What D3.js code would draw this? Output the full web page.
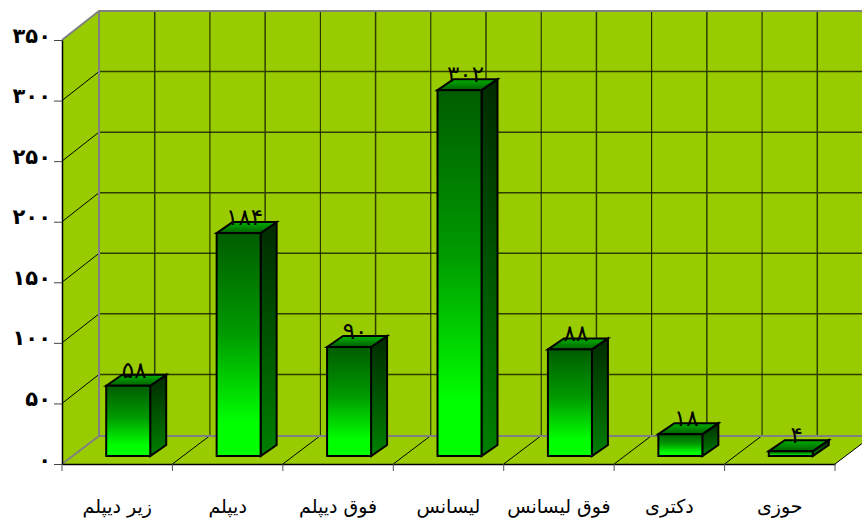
<!DOCTYPE html>
<html>
<head>
<meta charset="utf-8">
<script src="https://cdnjs.cloudflare.com/ajax/libs/d3/7.8.5/d3.min.js"></script>
<style>
html, body { margin: 0; padding: 0; background: #fff; }
svg { display: block; }
</style>
</head>
<body>
<div id="chart"></div>
<script>
var categories = ["زیر دیپلم", "دیپلم", "فوق دیپلم", "لیسانس", "فوق لیسانس", "دکتری", "حوزی"];
var values = [58, 184, 90, 302, 88, 18, 4];
var yTicks = [0, 50, 100, 150, 200, 250, 300, 350];

function init() {
    var width = 862, height = 523;
    var left = 62, right = 835, top = 40, bottom = 464;
    var depthX = 37, depthY = 28;

    var xScale = d3.scaleBand().domain(categories).range([left, right]);
    var yScale = d3.scaleLinear().domain([0, 350]).range([bottom, top]);

    function fa(n) {
        return String(n).replace(/\d/g, function(c) { return "۰۱۲۳۴۵۶۷۸۹"[+c]; });
    }

    var svg = d3.select("#chart").append("svg")
        .attr("width", width)
        .attr("height", height);

    var defs = svg.append("defs");
    function gradient(id, stops) {
        var g = defs.append("linearGradient").attr("id", id)
            .attr("x1", 0).attr("x2", 0).attr("y1", 0).attr("y2", 1);
        stops.forEach(function(s) {
            g.append("stop").attr("offset", s[0]).attr("stop-color", s[1]);
        });
    }
    gradient("frontFill", [[0, "#005c00"], [0.45, "#009a00"], [0.85, "#00ff00"], [1, "#00ff00"]]);
    gradient("sideFill", [[0, "#002a00"], [1, "#008000"]]);
    gradient("topFill", [[0, "#00b000"], [1, "#006000"]]);

    // walls and floor
    var wallColor = "#99cc00", edge = "#808080";
    svg.append("polygon")
        .attr("points", [[left, top], [left + depthX, top - depthY - 1], [left + depthX, bottom - depthY], [left, bottom]].join(" "))
        .attr("fill", wallColor);
    svg.append("rect")
        .attr("x", left + depthX).attr("y", top - depthY - 1)
        .attr("width", width - left - depthX).attr("height", bottom - top + 1)
        .attr("fill", wallColor);
    svg.append("polygon")
        .attr("points", [[left, bottom], [left + depthX, bottom - depthY], [right + depthX, bottom - depthY], [right, bottom]].join(" "))
        .attr("fill", wallColor);

    // gridlines on the back wall
    var xStep = xScale.step();
    yTicks.slice(1, -1).forEach(function(t) {
        svg.append("line")
            .attr("x1", left).attr("y1", yScale(t))
            .attr("x2", left + depthX).attr("y2", yScale(t) - depthY - 1)
            .attr("stroke", "#000").attr("stroke-width", 1);
        svg.append("line")
            .attr("x1", left + depthX).attr("y1", yScale(t) - depthY - 1)
            .attr("x2", width).attr("y2", yScale(t) - depthY - 1)
            .attr("stroke", "#2e3d00").attr("stroke-width", 1.5);
    });
    d3.range(1, 15).forEach(function(i) {
        var gx = left + depthX + 0.5 + i * xStep / 2;
        svg.append("line")
            .attr("x1", gx).attr("y1", top - depthY)
            .attr("x2", gx).attr("y2", bottom - depthY)
            .attr("stroke", i % 2 ? "#2e3d00" : "#141a00").attr("stroke-width", i % 2 ? 1.5 : 1);
    });
    // floor lines
    d3.range(1, 8).forEach(function(i) {
        svg.append("line")
            .attr("x1", left + i * xStep).attr("y1", bottom)
            .attr("x2", left + i * xStep + depthX).attr("y2", bottom - depthY)
            .attr("stroke", "#000").attr("stroke-width", 1);
    });

    // wall edges
    svg.append("path")
        .attr("d", "M" + left + "," + top + "L" + (left + depthX) + "," + (top - depthY - 1) + "L" + width + "," + (top - depthY - 1))
        .attr("fill", "none").attr("stroke", edge).attr("stroke-width", 2);
    svg.append("line")
        .attr("x1", left + depthX).attr("y1", top - depthY - 1)
        .attr("x2", left + depthX).attr("y2", bottom - depthY)
        .attr("stroke", edge).attr("stroke-width", 2);
    svg.append("path")
        .attr("d", "M" + left + "," + bottom + "L" + (left + depthX) + "," + (bottom - depthY) + "L" + width + "," + (bottom - depthY))
        .attr("fill", "none").attr("stroke", edge).attr("stroke-width", 2);

    // bars
    var barW = 44, offX = 11, offY = 8, barDX = 16, barDY = 11;
    var bars = svg.selectAll(".bar").data(values).enter().append("g").attr("class", "bar");
    function bx(i) { return xScale(categories[i]) + (xScale.bandwidth() - barW) / 2 + offX; }
    function barPath(pts) { return "M" + pts.join("L") + "Z"; }
    bars.append("path")
        .attr("fill", "url(#sideFill)").attr("stroke", "#000").attr("stroke-width", 2)
        .attr("d", function(d, i) {
            var x = bx(i) + barW, y0 = bottom - offY, y1 = yScale(d) - offY;
            return barPath([[x, y1], [x + barDX, y1 - barDY], [x + barDX, y0 - barDY], [x, y0]]);
        });
    bars.append("path")
        .attr("fill", "url(#topFill)").attr("stroke", "#000").attr("stroke-width", 2)
        .attr("d", function(d, i) {
            var x = bx(i), y1 = yScale(d) - offY;
            return barPath([[x, y1], [x + barDX, y1 - barDY], [x + barW + barDX, y1 - barDY], [x + barW, y1]]);
        });
    bars.append("rect")
        .attr("fill", "url(#frontFill)").attr("stroke", "#000").attr("stroke-width", 2)
        .attr("x", function(d, i) { return bx(i); })
        .attr("y", function(d) { return yScale(d) - offY; })
        .attr("width", barW)
        .attr("height", function(d) { return bottom - yScale(d); });

    // data labels
    bars.append("text")
        .attr("x", function(d, i) { return bx(i) + barW / 2 + 6; })
        .attr("y", function(d) { return yScale(d) - offY - 8; })
        .attr("text-anchor", "middle")
        .attr("font-family", "'DejaVu Sans'")
        .attr("font-size", 23)
        .attr("fill", "#000")
        .text(function(d) { return fa(d); });

    // axes
    var yAxis = svg.append("g")
        .attr("transform", "translate(" + left + ",0)")
        .call(d3.axisLeft(yScale).tickValues(yTicks).tickSize(8).tickPadding(3).tickSizeOuter(0).tickFormat(fa));
    yAxis.selectAll("text")
        .attr("font-family", "'DejaVu Sans'")
        .attr("font-weight", "bold")
        .attr("font-size", 21)
        .attr("dy", "0.1em")
        .attr("fill", "#000");
    yAxis.selectAll("line").attr("stroke", "#444");
    yAxis.select(".domain").attr("stroke", "#000").attr("stroke-width", 1.5);

    var xAxis = svg.append("g")
        .attr("transform", "translate(0," + bottom + ")")
        .call(d3.axisBottom(xScale).tickSize(0).tickPadding(36).tickSizeOuter(0));
    xAxis.selectAll("text")
        .attr("font-family", "'DejaVu Sans'")
        .attr("font-size", 19)
        .attr("fill", "#000");
    xAxis.select(".domain").attr("stroke", "#000").attr("stroke-width", 1.5);
    d3.range(0, 8).forEach(function(i) {
        xAxis.append("line")
            .attr("x1", left + i * xStep).attr("x2", left + i * xStep)
            .attr("y1", 0).attr("y2", 7)
            .attr("stroke", "#555");
    });
}

window.onload = init;
</script>
</body>
</html>
